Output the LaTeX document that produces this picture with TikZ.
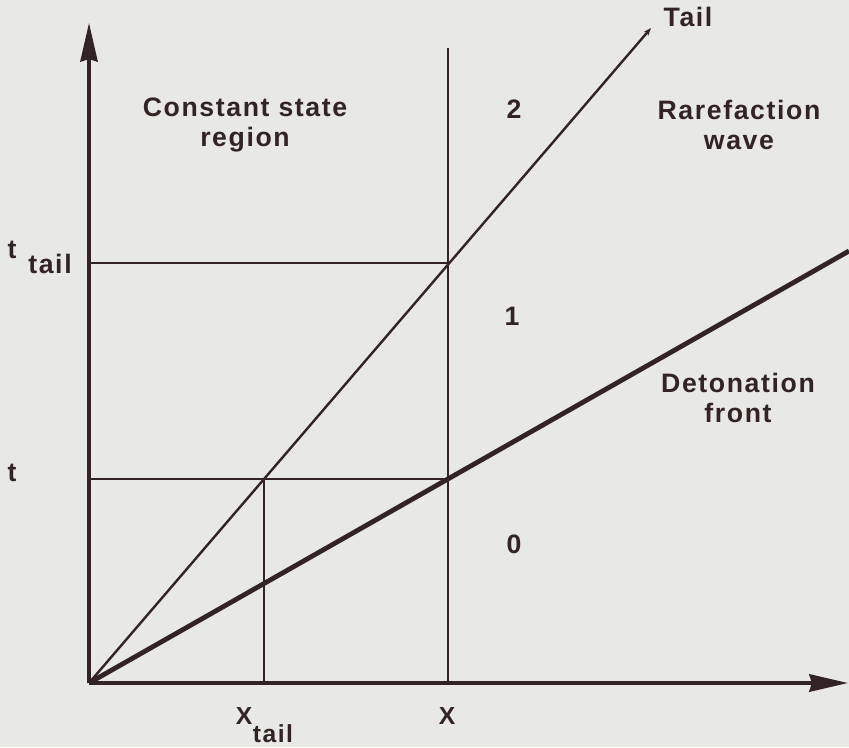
\documentclass[tikz,border=0pt]{standalone}
\usepackage{fontspec}
\setmainfont{Liberation Sans}
\newfontfamily\lblfont[LetterSpace=6]{Liberation Sans}
\usepackage{xcolor}
\usetikzlibrary{arrows.meta}
\usetikzlibrary{math}
\definecolor{ink}{RGB}{50,36,36}
\definecolor{paper}{RGB}{232,232,228}

\begin{document}
\begin{tikzpicture}[x=0.75pt,y=-0.75pt,
  lbl/.style={font=\lblfont\bfseries\fontsize{20}{22}\selectfont, text=ink, inner sep=0pt, align=center},
  axlbl/.style={lbl, font=\lblfont\bfseries\fontsize{18.5}{20}\selectfont},
  thin/.style={ink, line width=1.2},
  axis/.style={ink, line width=2.4, -{Stealth[length=29pt,width=13pt,inset=2pt]}}]
\tikzmath{
\xT=264; \xX=448; \tT=263; \tO=479;
}

\fill[paper] (0,0) rectangle (849,747);
\useasboundingbox (0,0) rectangle (849,747);

\coordinate (O) at (89,683);
\coordinate (Ytop) at (89,23);
\coordinate (Xend) at (848,683);
\coordinate (Tend) at (651,28);
\coordinate (Dend) at (849,251);
\coordinate (TT) at (89,\tT);
\coordinate (T0) at (89,\tO);
\coordinate (A) at (\xT,\tO);
\coordinate (B) at (\xX,\tO);
\coordinate (C) at (\xX,\tT);
\coordinate (Ctop) at (\xX,48);
\coordinate (XT) at (\xT,683);
\coordinate (XX) at (\xX,683);

% grid lines for t, t_tail, x, x_tail
\draw[thin] (TT) -- (C);
\draw[thin] (T0) -- (B);
\draw[thin] (XT) -- (A);
\draw[thin] (XX) -- (Ctop);

% tail of the rarefaction wave
\draw[ink, line width=1.8, -{Stealth[length=6pt,width=4.5pt]}] (O) -- (Tend);
% detonation front
\draw[ink, line width=3.6] (O) -- (Dend);

% axes
\draw[axis] (O) -- (Ytop);
\draw[axis, line width=3] (O) -- (Xend);

% labels
\node[lbl] (const) at (245,125) {Constant state\\region};
\node[lbl] (rare) at (739,125) {Rarefaction\\wave};
\node[lbl] (deto) at (738,398) {Detonation\\front};
\node[lbl] (tail) at (688,17) {Tail};
\node[lbl] (two) at (514,109) {2};
\node[lbl] (one) at (512,316) {1};
\node[lbl] (zero) at (514,544) {0};

\node[lbl] (tT) at (12,250) {t};
\node[lbl] (tTs) at (50,264) {tail};
\node[lbl] (t0) at (12,473) {t};
\node[axlbl] (xX) at (447,716) {X};
\node[axlbl] (xT) at (244,716) {X};
\node[axlbl] (xTs) at (273,734) {tail};
\end{tikzpicture}
\end{document}
